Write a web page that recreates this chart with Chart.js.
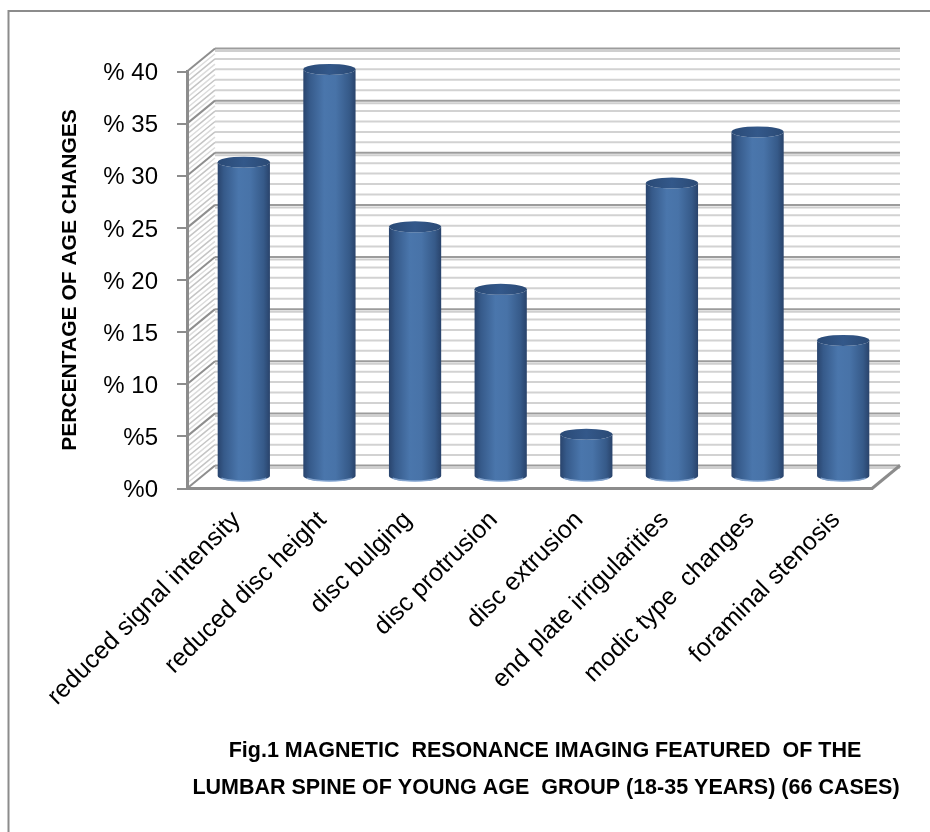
<!DOCTYPE html>
<html>
<head>
<meta charset="utf-8">
<script src="https://cdn.jsdelivr.net/npm/chart.js@4.4.1/dist/chart.umd.min.js"></script>
<style>
  html, body { margin: 0; padding: 0; background: #fff; overflow: hidden; }
  #wrap { position: relative; width: 930px; height: 832px; }
</style>
</head>
<body>
<div id="wrap"><canvas id="c" width="930" height="832"></canvas></div>
<script>
// Lumbar spine MRI findings, young age group (18-35 years), 66 cases
const categories = [
  'reduced signal intensity',
  'reduced disc height',
  'disc bulging',
  'disc protrusion',
  'disc extrusion',
  'end plate irrigularities',
  'modic type  changes',
  'foraminal stenosis'
];
const percentages = [30.2, 39.1, 24.0, 18.0, 4.1, 28.2, 33.1, 13.1];
const yTickLabels = ['%0', '%5', '% 10', '% 15', '% 20', '% 25', '% 30', '% 35', '% 40'];
const axisTitle = 'PERCENTAGE OF AGE CHANGES';
const figureTitle = [
  'Fig.1 MAGNETIC  RESONANCE IMAGING FEATURED  OF THE',
  'LUMBAR SPINE OF YOUNG AGE  GROUP (18-35 YEARS) (66 CASES)'
];

// Depth of the 3-D box (front plane -> back wall); bars stand half way in.
const DEPTH = { x: 28, y: -23 };
const SANS = "'Liberation Sans', Arial, sans-serif";

const backdrop = {
  id: 'backdrop',
  beforeDraw(chart) {
    const { ctx, chartArea: a, scales: { y } } = chart;
    ctx.save();
    ctx.fillStyle = '#fff';
    ctx.fillRect(0, 0, chart.width, chart.height);

    // outer frame (top and left edges)
    ctx.strokeStyle = '#8c8c8c';
    ctx.lineWidth = 2;
    ctx.beginPath();
    ctx.moveTo(8.5, chart.height);
    ctx.lineTo(8.5, 11);
    ctx.lineTo(chart.width, 11);
    ctx.stroke();

    const bx0 = a.left + DEPTH.x, bx1 = a.right + DEPTH.x;
    // back wall gridlines, every unit; darker every 5
    for (let v = 0; v <= 40; v++) {
      const yf = y.getPixelForValue(v);
      const yb = yf + DEPTH.y;
      const major = v % 5 === 0;
      ctx.lineWidth = 2;
      ctx.strokeStyle = major ? '#9c9c9c' : '#d2d2d2';
      ctx.beginPath();
      ctx.moveTo(bx0, yb);
      ctx.lineTo(bx1, yb);
      ctx.stroke();
      if (major) {
        ctx.strokeStyle = '#cfcfcf';
        ctx.beginPath();
        ctx.moveTo(bx0, yb + 2.5);
        ctx.lineTo(bx1, yb + 2.5);
        ctx.stroke();
      }
    }
    // side wall: diagonal grid strokes, every half unit
    for (let v = 0; v <= 40; v += 0.5) {
      const yf = y.getPixelForValue(v);
      const major = v % 5 === 0;
      ctx.lineWidth = major ? 2 : 1.5;
      ctx.strokeStyle = major ? '#8e8e8e' : (v % 1 === 0 ? '#c4c4c4' : '#dcdcdc');
      ctx.beginPath();
      ctx.moveTo(a.left, yf);
      ctx.lineTo(a.left + DEPTH.x, yf + DEPTH.y);
      ctx.stroke();
    }
    // floor right edge
    ctx.strokeStyle = '#8c8c8c';
    ctx.lineWidth = 3;
    ctx.beginPath();
    ctx.moveTo(a.right, a.bottom);
    ctx.lineTo(a.right + DEPTH.x, a.bottom + DEPTH.y);
    ctx.stroke();
    ctx.restore();
  }
};

const cylinders = {
  id: 'cylinders',
  afterDatasetsDraw(chart) {
    const { ctx } = chart;
    const meta = chart.getDatasetMeta(0);
    const ry = 5.5;
    ctx.save();
    meta.data.forEach((bar) => {
      const cx = bar.x + DEPTH.x / 2;
      const top = bar.y + DEPTH.y / 2;
      const bottom = bar.base + DEPTH.y / 2;
      const rx = bar.width / 2;

      const g = ctx.createLinearGradient(cx - rx, 0, cx + rx, 0);
      g.addColorStop(0, '#29446d');
      g.addColorStop(0.12, '#365a8a');
      g.addColorStop(0.4, '#4a76ac');
      g.addColorStop(0.62, '#4873a8');
      g.addColorStop(0.88, '#365a89');
      g.addColorStop(1, '#29436b');

      ctx.beginPath();
      ctx.moveTo(cx - rx, top);
      ctx.lineTo(cx - rx, bottom);
      ctx.ellipse(cx, bottom, rx, ry, 0, Math.PI, 0, true);
      ctx.lineTo(cx + rx, top);
      ctx.ellipse(cx, top, rx, ry, 0, 0, Math.PI, false);
      ctx.closePath();
      ctx.fillStyle = g;
      ctx.fill();

      // light rim along the base
      ctx.beginPath();
      ctx.ellipse(cx, bottom, rx - 1, ry - 0.5, 0, Math.PI * 0.85, Math.PI * 0.15, true);
      ctx.strokeStyle = 'rgba(150,180,220,0.75)';
      ctx.lineWidth = 1.5;
      ctx.stroke();

      // top cap
      const tg = ctx.createLinearGradient(cx - rx, 0, cx + rx, 0);
      tg.addColorStop(0, '#2a4a76');
      tg.addColorStop(0.5, '#33588a');
      tg.addColorStop(1, '#2b4a75');
      ctx.beginPath();
      ctx.ellipse(cx, top, rx, ry, 0, 0, Math.PI * 2);
      ctx.fillStyle = tg;
      ctx.fill();
    });
    ctx.restore();
  }
};

const captions = {
  id: 'captions',
  afterDraw(chart) {
    const { ctx } = chart;
    ctx.save();
    ctx.fillStyle = '#000';
    ctx.font = `bold 21.5px ${SANS}`;
    ctx.textAlign = 'center';
    ctx.textBaseline = 'middle';
    ctx.fillText(figureTitle[0], 545, 751);
    ctx.fillText(figureTitle[1], 546, 788);
    ctx.restore();
  }
};

new Chart(document.getElementById('c'), {
  type: 'bar',
  data: {
    labels: categories,
    datasets: [{
      data: percentages,
      backgroundColor: 'rgba(0,0,0,0)',
      borderWidth: 0,
      barPercentage: 0.61,
      categoryPercentage: 1
    }]
  },
  options: {
    responsive: false,
    animation: false,
    devicePixelRatio: 1,
    layout: { padding: { left: 10, top: 71.5, right: 58, bottom: 0 } },
    plugins: { legend: { display: false }, tooltip: { enabled: false } },
    scales: {
      x: {
        grid: { display: false, drawTicks: false },
        border: { display: true, color: '#8c8c8c', width: 3 },
        ticks: {
          color: '#000',
          font: { family: SANS, size: 25 },
          minRotation: 45,
          maxRotation: 45,
          autoSkip: false,
          padding: 17,
          labelOffset: 7
        },
        afterFit(scale) { scale.height = 832 - 488.5; }
      },
      y: {
        min: 0,
        max: 40,
        grid: { drawOnChartArea: false, drawTicks: true, tickLength: 10, color: '#8c8c8c', lineWidth: 2 },
        border: { display: true, color: '#8c8c8c', width: 3 },
        ticks: {
          stepSize: 5,
          color: '#000',
          font: { family: SANS, size: 24 },
          padding: 19,
          labelOffset: 2,
          callback: (value, index) => yTickLabels[index]
        },
        title: {
          display: true,
          text: axisTitle,
          color: '#000',
          font: { family: SANS, size: 21, weight: 'bold' },
          padding: { top: 48, bottom: 0 }
        },
        afterFit(scale) { scale.width = 177; }
      }
    }
  },
  plugins: [backdrop, cylinders, captions]
});
</script>
</body>
</html>
